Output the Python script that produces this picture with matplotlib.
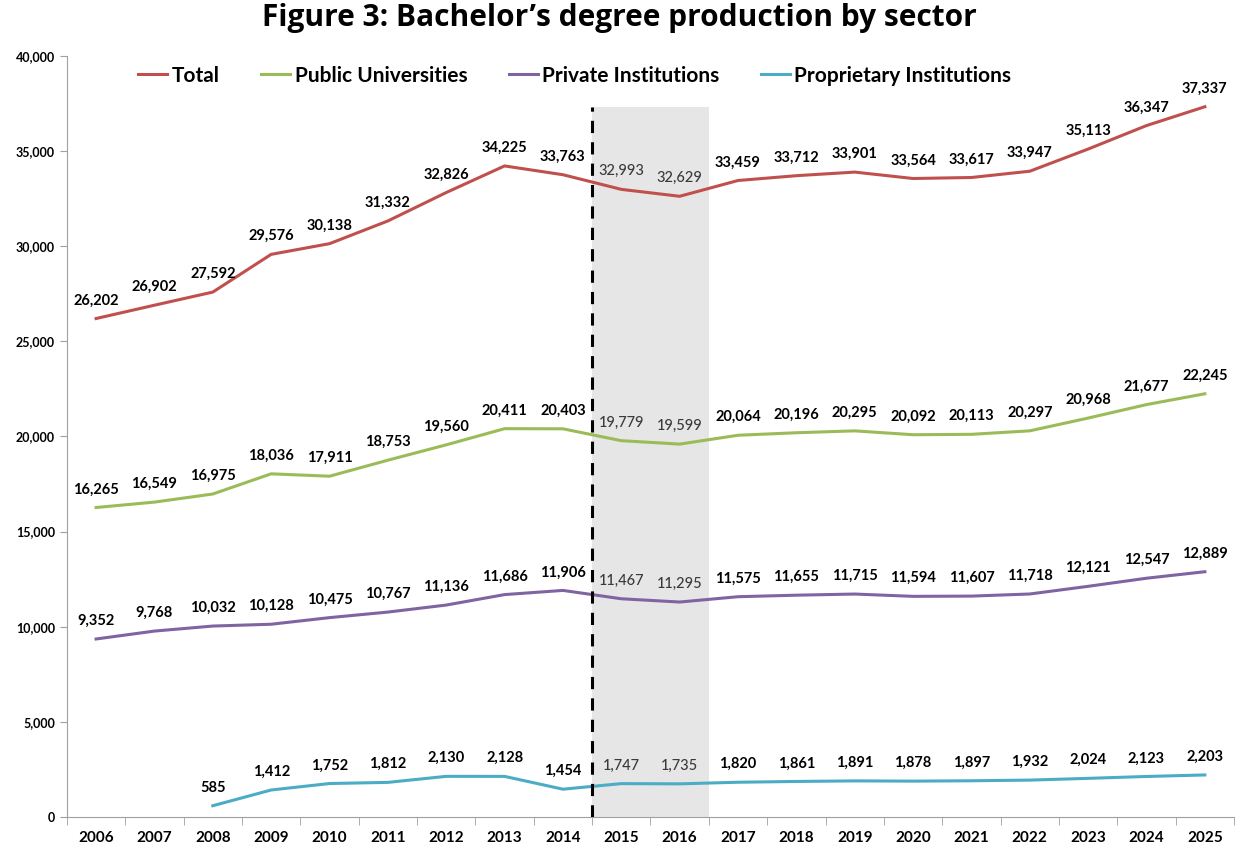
import numpy as np
import matplotlib.pyplot as plt
from matplotlib.ticker import FuncFormatter, FixedLocator

years = [str(y) for y in range(2006, 2026)]
total = [26202, 26902, 27592, 29576, 30138, 31332, 32826, 34225, 33763, 32993,
         32629, 33459, 33712, 33901, 33564, 33617, 33947, 35113, 36347, 37337]
public = [16265, 16549, 16975, 18036, 17911, 18753, 19560, 20411, 20403, 19779,
          19599, 20064, 20196, 20295, 20092, 20113, 20297, 20968, 21677, 22245]
private = [9352, 9768, 10032, 10128, 10475, 10767, 11136, 11686, 11906, 11467,
           11295, 11575, 11655, 11715, 11594, 11607, 11718, 12121, 12547, 12889]
proprietary = [None, None, 585, 1412, 1752, 1812, 2130, 2128, 1454, 1747,
               1735, 1820, 1861, 1891, 1878, 1897, 1932, 2024, 2123, 2203]

series = [("Total", total, "#C0504D"),
          ("Public Universities", public, "#9BBB59"),
          ("Private Institutions", private, "#8064A2"),
          ("Proprietary Institutions", proprietary, "#4BACC6")]

plt.rcParams['font.family'] = ['Lato', 'DejaVu Sans']

fig = plt.figure(figsize=(12.39, 8.5), dpi=100)
ax = fig.add_axes([0.054, 0.039, 0.942, 0.895])

x = np.arange(len(years))
# projected years shaded
shade_top = 37300
ax.fill_between([8.5, 10.5], 0, shade_top, color="#E6E6E6", zorder=0, lw=0)
ax.plot([8.5, 8.5], [0, shade_top], color="black", lw=2.2, ls=(0, (4, 3)), zorder=3)

for name, vals, col in series:
    xs = [i for i, v in enumerate(vals) if v is not None]
    ys = [v for v in vals if v is not None]
    ax.plot(xs, ys, color=col, lw=2.2, label=name, zorder=2)
    for xi, yi in zip(xs, ys):
        shaded = 8.5 < xi < 10.5
        ax.annotate(f"{yi:,}", (xi, yi), xytext=(0, 8), textcoords="offset points",
                    ha="center", va="bottom", fontsize=10.5,
                    fontweight="medium" if shaded else "bold",
                    color="#3A3A3A" if shaded else "black", zorder=4)

ax.set_xlim(-0.5, len(years) - 0.5)
ax.set_ylim(0, 40000)
ax.set_yticks(np.arange(0, 40001, 5000))
ax.yaxis.set_major_formatter(FuncFormatter(lambda v, p: f"{int(v):,}"))
ax.set_xticks(x)
ax.set_xticklabels(years, fontsize=11, fontweight="bold")
ax.xaxis.set_minor_locator(FixedLocator(np.arange(-0.5, len(years), 1)))
ax.tick_params(axis="x", which="major", length=0, pad=10)
ax.tick_params(axis="x", which="minor", length=6, color="#A0A0A0")
ax.tick_params(axis="y", labelsize=9, length=5, color="#A0A0A0")
for lab in ax.get_yticklabels():
    lab.set_fontweight("bold")

for s in ["top", "right"]:
    ax.spines[s].set_visible(False)
for s in ["left", "bottom"]:
    ax.spines[s].set_color("#A0A0A0")

ax.legend(loc="upper left", bbox_to_anchor=(0.045, 1.012), ncol=4, frameon=False,
          prop={"weight": "bold", "size": 15}, handlelength=1.4,
          handletextpad=0.2, columnspacing=2.0)

fig.suptitle("Figure 3: Bachelor\u2019s degree production by sector", fontsize=21.5,
             fontweight="bold", family="Open Sans", y=0.997)

fig.savefig("out.png", dpi=100)
